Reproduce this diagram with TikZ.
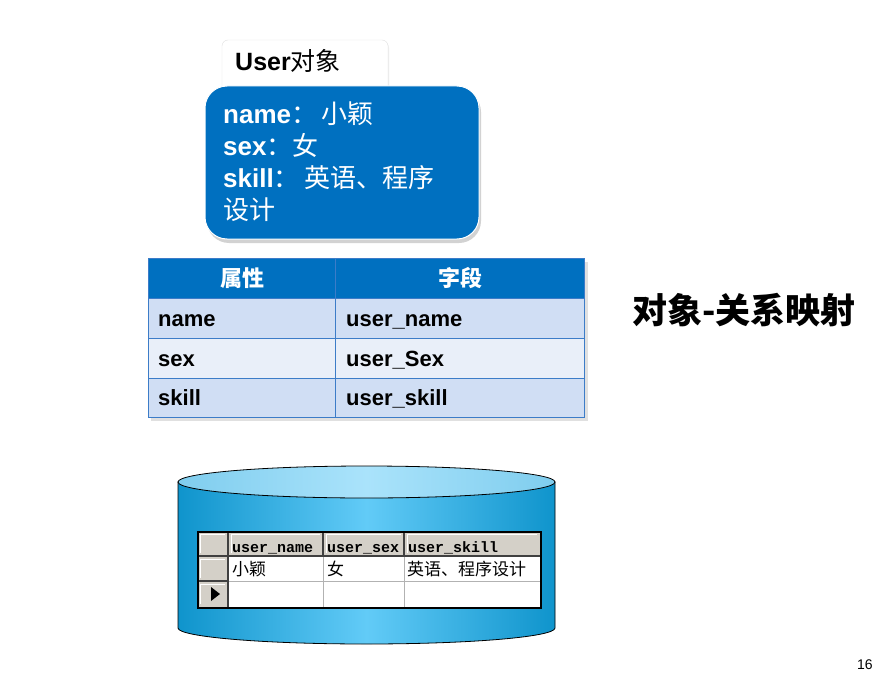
\documentclass[tikz,border=0pt]{standalone}
\usepackage{fontspec}
\setmainfont{Liberation Sans}
\newfontfamily\cjk{Noto Sans CJK SC}
\newfontfamily\mono{Liberation Mono}
\usetikzlibrary{shadows}
\definecolor{boxblue}{HTML}{0070C0}
\definecolor{rowA}{HTML}{D0DEF4}
\definecolor{rowB}{HTML}{E9EFF9}
\definecolor{tline}{HTML}{3C7CC8}
\definecolor{cylE}{HTML}{0F94CC}
\definecolor{cylM}{HTML}{62CBF7}
\definecolor{topE}{HTML}{7FCDEE}
\definecolor{topM}{HTML}{AAE3FB}
\definecolor{wgray}{HTML}{D4D0C8}
\tikzset{
  x=1pt, y=-1pt,
  tcell/.style={draw=tline, line width=1pt, minimum height=40pt, inner sep=0pt},
  ttext/.style={font=\fontsize{22}{24}\selectfont\bfseries, anchor=base west, inner sep=0pt},
  gtext/.style={font=\mono\fontsize{15}{16}\selectfont\bfseries, anchor=base west, inner sep=0pt},
  ctext/.style={font=\cjk\fontsize{17}{18}\selectfont, anchor=base west, inner sep=0pt},
}
\begin{document}
\begin{tikzpicture}
\useasboundingbox (0,0) rectangle (880,674);
\clip (0,0) rectangle (880,674);
\fill[white] (0,0) rectangle (880,674);

% tab
\node[draw=black!12, fill=white, rounded corners=6, minimum width=166, minimum height=56, inner sep=0pt,
  drop shadow={shadow xshift=1pt, shadow yshift=-2pt, opacity=0.15}] (tab) at (305,68) {};
\node[anchor=west, inner sep=0pt, font=\fontsize{25}{28}\selectfont] (tabt) at (235,61) {\textbf{User}{\cjk 对象}};

% blue object box
\node[fill=boxblue, draw=white, line width=1pt, rounded corners=22, minimum width=274, minimum height=153, inner sep=0pt,
  drop shadow={shadow xshift=2pt, shadow yshift=-4pt, opacity=0.35}] (obj) at (342,162.5) {};
\node[anchor=north west, inner sep=0pt, text=white, align=left, font=\fontsize{26}{32}\selectfont] (objt) at (223,102)
  {\textbf{name}{\cjk ：\,小颖}\\ \textbf{sex}{\cjk ：女}\\ \textbf{skill}{\cjk ：\,英语、程序}\\ {\cjk 设计}};

% mapping table
\fill[black, opacity=0.12] (151,262) rectangle (588,421);
\node[tcell, fill=boxblue, minimum width=187, minimum height=40, anchor=north west] (h1) at (148,258) {};
\node[tcell, fill=boxblue, minimum width=249, minimum height=40, anchor=north west] (h2) at (335,258) {};
\node[text=white, font=\cjk\fontsize{22}{24}\selectfont\bfseries] (h1t) at (h1) {属性};
\node[text=white, font=\cjk\fontsize{22}{24}\selectfont\bfseries] (h2t) at (h2) {字段};
\node[tcell, fill=rowA, minimum width=187, anchor=north west] (a1) at (148,298) {};
\node[tcell, fill=rowA, minimum width=249, anchor=north west] (a2) at (335,298) {};
\node[tcell, fill=rowB, minimum width=187, anchor=north west] (b1) at (148,338) {};
\node[tcell, fill=rowB, minimum width=249, anchor=north west] (b2) at (335,338) {};
\node[tcell, fill=rowA, minimum width=187, minimum height=39, anchor=north west] (c1) at (148,378) {};
\node[tcell, fill=rowA, minimum width=249, minimum height=39, anchor=north west] (c2) at (335,378) {};
\node[ttext] (a1t) at (158,326) {name};
\node[ttext] (a2t) at (346,326) {user\_name};
\node[ttext] (b1t) at (158,366) {sex};
\node[ttext] (b2t) at (346,366) {user\_Sex};
\node[ttext] (c1t) at (158,405) {skill};
\node[ttext] (c2t) at (346,405) {user\_skill};

% title
\node[anchor=west, inner sep=0pt, font=\cjk\fontsize{35}{38}\selectfont\bfseries] (title) at (632,310) {对象-关系映射};

% cylinder
\shade[left color=cylE, right color=cylE, middle color=cylM, draw=black, line width=0.8pt]
  (178,482) -- (178,628) arc[start angle=180, end angle=0, x radius=188.5, y radius=16] -- (555,482) -- cycle;
\shade[left color=topE, right color=topE, middle color=topM, draw=black, line width=0.8pt]
  (366.5,482) ellipse[x radius=188.5, y radius=16];

% database grid
\fill[white] (197,531) rectangle (540,607);
\fill[wgray] (197,531) rectangle (228,607);
\fill[wgray] (228,531) rectangle (540,556);
\draw[gray!60, line width=0.8pt] (228,581) -- (540,581) (323,556) -- (323,607) (404,556) -- (404,607);
\draw[black!75, line width=1.2pt] (228,531) -- (228,607) (197,556) -- (540,556) (197,581) -- (228,581)
  (323,531) -- (323,556) (404,531) -- (404,556);
\draw[white, line width=0.8pt] (200,534) -- (225,534) (200,534) -- (200,553) (231,534) -- (320,534) (231,534) -- (231,553)
  (326,534) -- (401,534) (326,534) -- (326,553) (407,534) -- (537,534) (407,534) -- (407,553)
  (200,559) -- (225,559) (200,559) -- (200,578) (200,584) -- (225,584) (200,584) -- (200,604);
\node[draw=black, line width=1.5pt, minimum width=343, minimum height=76, inner sep=0pt, anchor=north west] (grid) at (197,531) {};
\fill[black] (211,587) -- (220,594) -- (211,601) -- cycle;
\node[gtext] (g1) at (232,552) {user\_name};
\node[gtext] (g2) at (327,552) {user\_sex};
\node[gtext] (g3) at (408,552) {user\_skill};
\node[ctext] (d1) at (232,575) {小颖};
\node[ctext] (d2) at (327,575) {女};
\node[ctext] (d3) at (407,575) {英语、程序设计};

% page number
\node[anchor=north west, inner sep=0pt, font=\fontsize{14}{16}\selectfont] (pg) at (857,660) {16};
\end{tikzpicture}
\end{document}
